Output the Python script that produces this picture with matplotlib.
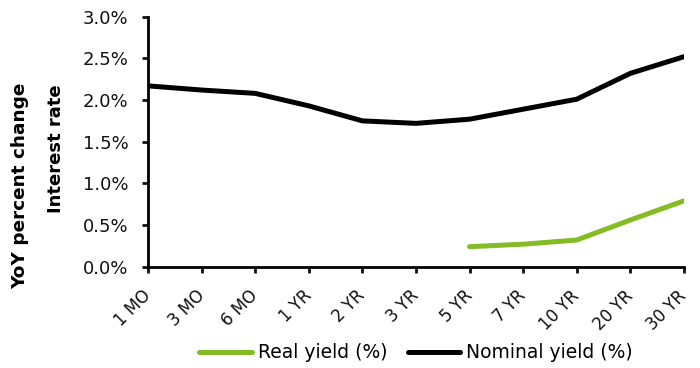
import matplotlib.pyplot as plt
from matplotlib.ticker import FuncFormatter

maturities = ['1 MO', '3 MO', '6 MO', '1 YR', '2 YR', '3 YR', '5 YR', '7 YR', '10 YR', '20 YR', '30 YR']
nominal_yield = [2.17, 2.12, 2.08, 1.93, 1.75, 1.72, 1.77, 1.89, 2.01, 2.32, 2.52]
real_yield = [None, None, None, None, None, None, 0.24, 0.27, 0.32, 0.56, 0.79]

plt.rcParams['font.family'] = ['DejaVu Sans']

fig = plt.figure(figsize=(7, 3.68), dpi=100)
ax = fig.add_axes([0.2114, 0.2753, 0.7656, 0.6793])

x = list(range(len(maturities)))
rx = [i for i, v in zip(x, real_yield) if v is not None]
ry = [v for v in real_yield if v is not None]

ax.plot(rx, ry, color='#84bc25', lw=3.6, solid_capstyle='round', label='Real yield (%)')
ax.plot(x, nominal_yield, color='black', lw=3.6, solid_capstyle='round', label='Nominal yield (%)')

ax.set_xlim(0, len(maturities) - 1)
ax.set_ylim(0, 3.0)
ax.set_yticks([0, 0.5, 1.0, 1.5, 2.0, 2.5, 3.0])
ax.yaxis.set_major_formatter(FuncFormatter(lambda v, p: f'{v:.1f}%'))
ax.set_xticks(x)
ax.set_xticklabels(maturities, rotation=45, ha='right', va='center', rotation_mode='anchor')

for s in ['top', 'right']:
    ax.spines[s].set_visible(False)
for s in ['left', 'bottom']:
    ax.spines[s].set_linewidth(2)
ax.tick_params(axis='both', direction='out', width=2, length=4, colors='#111111')
ax.tick_params(axis='x', labelsize=12, pad=15)
ax.tick_params(axis='y', labelsize=13, pad=10)
ax.set_ylabel('Interest rate', fontsize=13, fontweight='bold')
ax.yaxis.set_label_coords(-0.155, 0.472)
fig.text(0.029, 0.495, 'YoY percent change', rotation=90, fontsize=13.3, fontweight='bold',
         ha='center', va='center')

ax.legend(loc='center', bbox_to_anchor=(0.5, -0.344), ncol=2, frameon=False, fontsize=13.5,
          handlelength=2.8, columnspacing=1.1, handletextpad=0.3)

fig.savefig('out.png', dpi=100)
